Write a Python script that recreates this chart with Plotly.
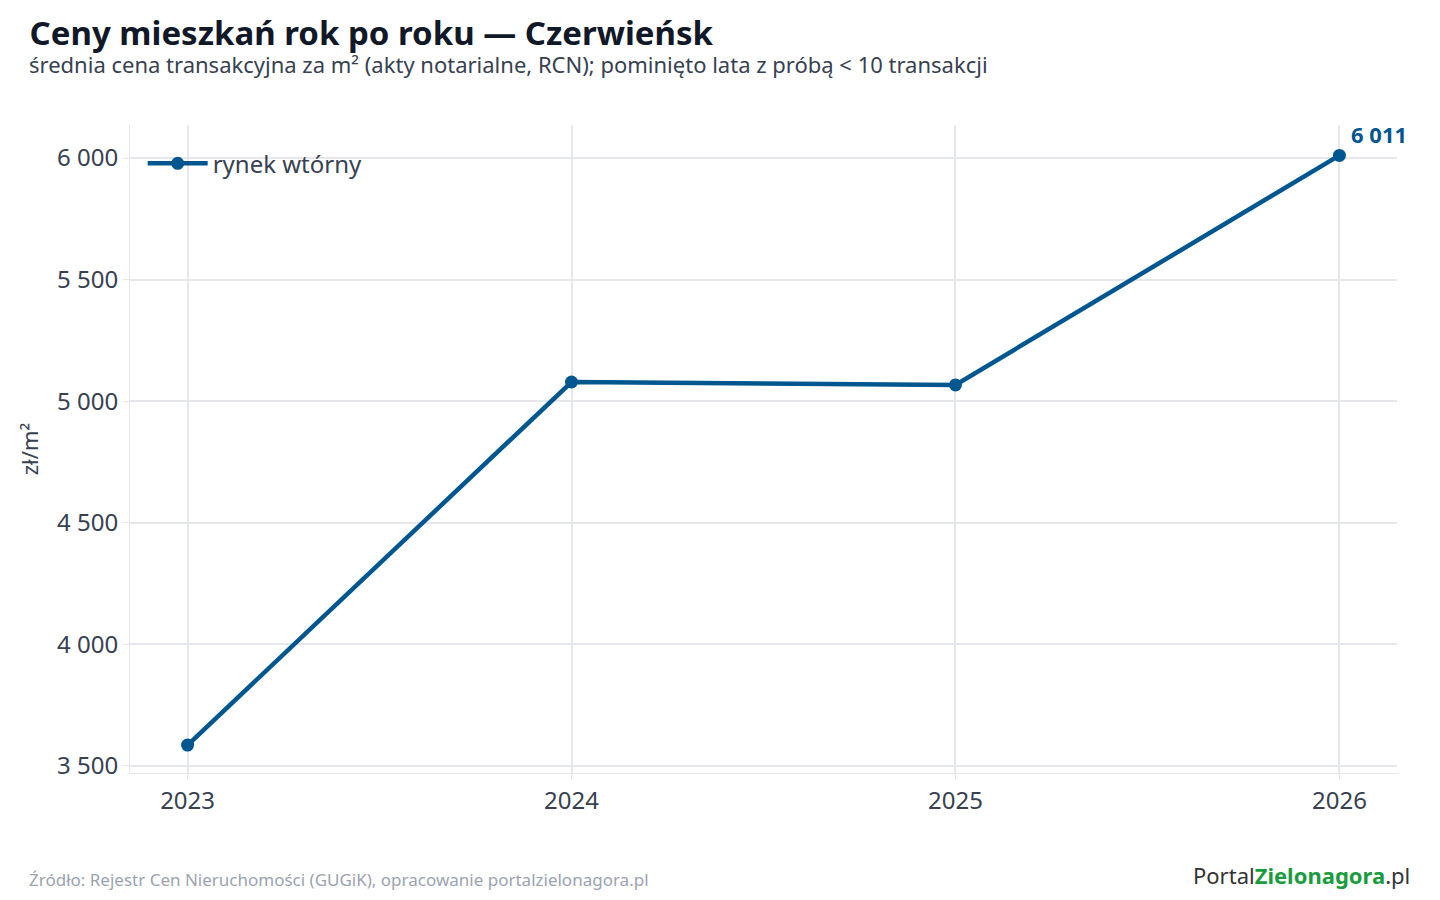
import plotly.graph_objects as go

years = [2023, 2024, 2025, 2026]
prices = [3586, 5079, 5067, 6011]
series_name = "rynek wtórny"
y_ticks = [3500, 4000, 4500, 5000, 5500, 6000]
y_labels = ["3 500", "4 000", "4 500", "5 000", "5 500", "6 000"]

BLUE = "#00568f"
FONT = "Noto Sans"

fig = go.Figure()
fig.add_trace(go.Scatter(x=years, y=prices, mode="lines+markers", name=series_name,
                         line=dict(color=BLUE, width=4.5), marker=dict(size=13, color=BLUE)))

fig.add_annotation(x=years[-1], y=prices[-1], text="<b>6 011</b>", showarrow=False,
                   xanchor="left", yanchor="bottom", xshift=10, yshift=4,
                   font=dict(size=22, color=BLUE, family=FONT))

fig.update_layout(
    width=1440, height=900, plot_bgcolor="white", paper_bgcolor="white",
    margin=dict(l=122, r=51, t=117, b=135),
    font=dict(family=FONT, color="#374151"),
    title=dict(text="<b>Ceny mieszkań rok po roku — Czerwieńsk</b>", x=0.015, xanchor="left",
               y=0.985, yanchor="top", font=dict(size=33, color="#111827")),
    legend=dict(x=0.01, y=0.975, xanchor="left", yanchor="top", font=dict(size=24),
                bgcolor="rgba(0,0,0,0)", itemwidth=60),
    showlegend=True,
)
fig.add_annotation(xref="paper", yref="paper", x=-0.081, y=1.094, xanchor="left", yanchor="middle",
                   text="średnia cena transakcyjna za m² (akty notarialne, RCN); pominięto lata z próbą < 10 transakcji",
                   showarrow=False, font=dict(size=22, color="#374151"))
fig.add_annotation(xref="paper", yref="paper", x=-0.081, y=-0.164, xanchor="left", yanchor="middle",
                   text="Źródło: Rejestr Cen Nieruchomości (GUGiK), opracowanie portalzielonagora.pl",
                   showarrow=False, font=dict(size=17, color="#9ca3af"))
fig.add_annotation(xref="paper", yref="paper", x=1.012, y=-0.158, xanchor="right", yanchor="middle",
                   text="<span style='color:#333'>Portal</span><b><span style='color:#1a9c3e'>Zielonagora</span></b><span style='color:#333'>.pl</span>",
                   showarrow=False, font=dict(size=22))

fig.update_xaxes(range=[2022.85, 2026.15], tickvals=years, ticktext=[str(y) for y in years],
                 showgrid=True, gridcolor="#e5e7eb", gridwidth=1.5, ticks="outside", ticklen=6,
                 tickcolor="#e5e7eb", showline=True, linecolor="#e5e7eb",
                 tickfont=dict(size=24), zeroline=False)
fig.update_yaxes(range=[3471, 6136], tickvals=y_ticks, ticktext=y_labels,
                 showgrid=True, gridcolor="#e5e7eb", gridwidth=1.5, ticks="outside", ticklen=6,
                 tickcolor="#e5e7eb", showline=True, linecolor="#e5e7eb",
                 tickfont=dict(size=24), zeroline=False,
                 title=dict(text="zł/m²", font=dict(size=22), standoff=12))

fig.write_html("out.html")
